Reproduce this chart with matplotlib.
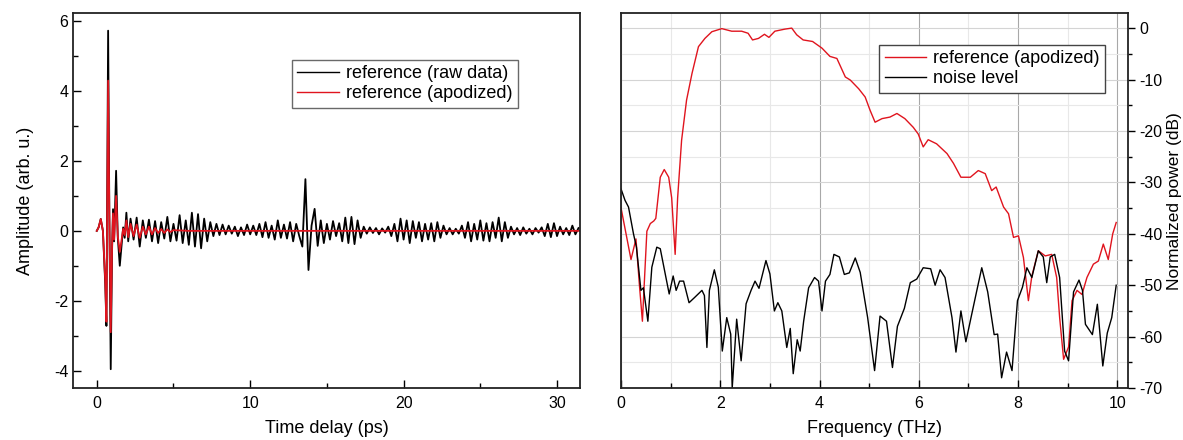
import numpy as np
import matplotlib
matplotlib.use("Agg")
import matplotlib.pyplot as plt
from matplotlib.ticker import MultipleLocator

plt.rcParams['font.family'] = ['Liberation Sans', 'DejaVu Sans']
plt.rcParams['axes.unicode_minus'] = False

# --- time domain: main pulse ---
pulse_t = [0.0, 0.12, 0.26, 0.4, 0.55, 0.63, 0.74, 0.82, 0.91, 1.0,
           1.06, 1.13, 1.26, 1.37, 1.5, 1.62, 1.72, 1.82, 1.93, 2.05]
pulse_raw = [0.0, 0.1, 0.34, 0.0, -1.5, -2.72, 5.73, 0.5, -3.96, -0.5,
             0.62, -0.3, 1.72, -0.2, -1.0, -0.4, 0.1, -0.2, 0.52, -0.3]
pulse_apod = [0.0, 0.1, 0.34, 0.0, -1.4, -2.6, 4.3, 0.4, -2.9, -0.4,
              0.5, -0.25, 1.0, -0.15, -0.6, -0.25, 0.06, -0.12, 0.3, -0.18]

# raw trace after the pulse, one value every 0.2 ps from 2.2 ps
noise_start, noise_step = 2.2, 0.2
noise_raw = [
    0.35, -0.25, 0.38, -0.45, 0.3,
    -0.2, 0.32, -0.3, 0.28, -0.35, 0.25, -0.22, 0.4, -0.3, 0.2,
    -0.28, 0.45, -0.35, 0.3, -0.4, 0.52, -0.45, 0.48, -0.5, 0.35, -0.3, 0.25,
    -0.15, 0.2, -0.12, 0.18, -0.1, 0.15, -0.08, 0.12, -0.15, 0.1, -0.12, 0.18, -0.1,
    0.15, -0.12, 0.2, -0.18, 0.25, -0.2, 0.15, -0.25, 0.3, -0.2, 0.18, -0.22, 0.25, -0.3, 0.2, -0.15,
    -0.45, 1.48, -1.12, 0.15, 0.63, -0.43,
    0.3, -0.35, 0.2, -0.25, 0.28, -0.15, 0.22, -0.3, 0.38, -0.35, 0.4, -0.38, 0.3, -0.2, 0.12,
    -0.08, 0.1, -0.06, 0.08, -0.1, 0.07, -0.05, 0.12, -0.15, 0.2,
    -0.3, 0.35, -0.25, 0.3, -0.35, 0.28, -0.2, 0.25, -0.3, 0.2,
    -0.25, 0.22, -0.3, 0.25, -0.2, 0.15, -0.1, 0.08, -0.1, 0.06,
    -0.08, 0.15, -0.2, 0.25, -0.3, 0.2, -0.25, 0.3, -0.28, 0.22, -0.3, 0.25, -0.2, 0.38, -0.3, 0.25, -0.2,
    0.12, -0.1, 0.08, -0.12, 0.1, -0.08, 0.06, -0.1, 0.08, -0.05, 0.1,
    -0.15, 0.2, -0.18, 0.22, -0.15, 0.12, -0.1, 0.08, -0.12, 0.15, -0.1, 0.08,
]

# apodized trace after the pulse (decays to ~0)
apod_tail_t = [2.2, 2.4, 2.6, 2.8, 3.0, 3.2, 3.4, 3.6, 3.8, 4.0, 4.2, 4.4,
               4.6, 4.8, 5.0, 6.0, 10.0, 15.0, 20.0, 25.0, 31.5]
apod_tail = [0.2, -0.15, 0.18, -0.2, 0.12, -0.1, 0.12, -0.1, 0.08, -0.06,
             0.05, -0.06, 0.04, -0.03, 0.02, 0.0, 0.0, 0.0, 0.0, 0.0, 0.0]

# --- frequency domain ---
red_f = [0.0, 0.1, 0.2, 0.3, 0.37, 0.43, 0.52, 0.59, 0.66, 0.70, 0.79, 0.87,
         0.96, 1.02, 1.09, 1.14, 1.22, 1.32, 1.43, 1.56, 1.69, 1.83, 2.03,
         2.23, 2.43, 2.56, 2.65, 2.77, 2.89, 2.98, 3.10, 3.30, 3.44, 3.54,
         3.67, 3.86, 4.05, 4.21, 4.35, 4.52, 4.62, 4.79, 4.92, 5.02, 5.12,
         5.26, 5.42, 5.56, 5.72, 5.89, 5.99, 6.09, 6.19, 6.36, 6.57, 6.70,
         6.85, 7.04, 7.20, 7.34, 7.47, 7.56, 7.71, 7.81, 7.91, 8.01, 8.11,
         8.21, 8.28, 8.41, 8.55, 8.68, 8.78, 8.84, 8.92, 9.02, 9.09, 9.19,
         9.29, 9.39, 9.52, 9.62, 9.72, 9.82, 9.91, 9.98]
red_db = [-35, -40, -45, -41, -50, -57, -39.5, -38, -37.5, -37, -29, -27.5,
          -29, -33, -44, -33, -21.8, -14, -8.8, -3.6, -2, -0.7, -0.1,
          -0.6, -0.6, -1, -2.3, -2, -1.2, -1.8, -0.6, -0.2, 0, -1.3,
          -2.3, -2.6, -3.9, -5.5, -5.9, -9.5, -10.1, -11.8, -13.4, -16.0, -18.3,
          -17.6, -17.3, -16.6, -17.6, -19.3, -20.6, -23.1, -21.7, -22.5, -24.4, -26.3,
          -29, -29, -27.7, -28.3, -31.6, -30.9, -34.8, -36.1, -40.7, -40.4, -44.6,
          -53, -48.2, -43.3, -44.3, -44, -48.5, -56.3, -64.4, -62, -53, -51,
          -51.8, -48.5, -45.9, -45.3, -42, -45, -40, -37.8]

noise_f = [0.0, 0.08, 0.15, 0.25, 0.31, 0.40, 0.45, 0.54, 0.62, 0.72, 0.79,
           0.89, 0.97, 1.05, 1.11, 1.18, 1.26, 1.37, 1.48, 1.63, 1.68, 1.73,
           1.78, 1.88, 1.96, 2.04, 2.13, 2.21, 2.24, 2.33, 2.42, 2.52, 2.62,
           2.70, 2.78, 2.92, 3.00, 3.09, 3.16, 3.24, 3.34, 3.41, 3.47, 3.55,
           3.61, 3.68, 3.78, 3.90, 3.98, 4.05, 4.12, 4.21, 4.29, 4.40, 4.50,
           4.60, 4.72, 4.82, 4.97, 5.11, 5.22, 5.35, 5.47, 5.57, 5.71, 5.83,
           5.96, 6.09, 6.24, 6.33, 6.43, 6.53, 6.67, 6.75, 6.85, 6.95, 7.06,
           7.16, 7.27, 7.39, 7.52, 7.59, 7.67, 7.77, 7.88, 7.99, 8.09, 8.18,
           8.28, 8.41, 8.51, 8.58, 8.65, 8.74, 8.84, 8.94, 9.02, 9.12, 9.23,
           9.30, 9.36, 9.50, 9.60, 9.71, 9.80, 9.89, 9.98]
noise_db = [-31.3, -33.5, -34.8, -40, -42.6, -51, -50.5, -57, -46.5, -42.6, -42.9,
            -47.8, -51.7, -48.2, -51, -49.2, -49.2, -53.4, -52.4, -51, -52, -62.1,
            -51, -47, -50.4, -62.8, -56.3, -59.5, -70, -56.6, -64.7, -53.6, -51,
            -49.2, -50.6, -45.2, -47.8, -55, -53.4, -55, -62.1, -58.4, -67.2, -60.6,
            -62.8, -57, -50.5, -48.5, -49.2, -55, -49.2, -47.9, -44, -44.5, -47.9,
            -47.6, -44.7, -47.5, -56.3, -66.6, -56, -57, -66, -58, -54.5, -49.5,
            -48.8, -46.6, -46.8, -50, -47, -48.5, -56.3, -63, -55, -61, -56,
            -51.5, -46.6, -51.3, -59.6, -59.5, -68, -63, -66.6, -53, -50.4, -46.6,
            -48.5, -43.3, -44.5, -49.5, -44.5, -44, -48.5, -62.8, -64.7, -51.3, -49,
            -51, -57.6, -59.6, -53.7, -65.7, -59.3, -56.3, -50]

RED = '#e0141e'

fig = plt.figure(figsize=(11.83, 4.4), dpi=100)
ax1 = fig.add_axes([0.0617, 0.118, 0.4286, 0.852])
ax2 = fig.add_axes([0.525, 0.118, 0.4286, 0.852])

# ---------- left: time trace ----------
noise_t = noise_start + noise_step * np.arange(len(noise_raw))
raw_t = np.concatenate([pulse_t, noise_t])
raw_y = np.concatenate([pulse_raw, noise_raw])
apod_t = np.concatenate([pulse_t, apod_tail_t])
apod_y = np.concatenate([pulse_apod, apod_tail])

ax1.plot(raw_t, raw_y, color='black', lw=1.3, label='reference (raw data)')
ax1.plot(apod_t, apod_y, color=RED, lw=1.3, label='reference (apodized)')

ax1.set_xlim(-1.55, 31.5)
ax1.set_ylim(-4.5, 6.23)
ax1.xaxis.set_major_locator(MultipleLocator(10))
ax1.xaxis.set_minor_locator(MultipleLocator(5))
ax1.yaxis.set_major_locator(MultipleLocator(2))
ax1.yaxis.set_minor_locator(MultipleLocator(1))
ax1.set_xlabel('Time delay (ps)', fontsize=13, labelpad=6)
ax1.set_ylabel('Amplitude (arb. u.)', fontsize=13, labelpad=14)
leg1 = ax1.legend(loc='upper left', bbox_to_anchor=(0.432, 0.875), borderaxespad=0,
                  fontsize=13, frameon=True, fancybox=False, edgecolor='#444444',
                  handlelength=2.3, handletextpad=0.4, borderpad=0.3, labelspacing=0.15)
for h in leg1.get_lines():
    h.set_linewidth(1.0)

# ---------- right: spectrum ----------
ax2.plot(red_f, red_db, color=RED, lw=1.0, label='reference (apodized)')
ax2.plot(noise_f, noise_db, color='black', lw=1.0, label='noise level')
ax2.set_xlim(0, 10.22)
ax2.set_ylim(-70, 2.9)
ax2.xaxis.set_major_locator(MultipleLocator(2))
ax2.xaxis.set_minor_locator(MultipleLocator(1))
ax2.yaxis.set_major_locator(MultipleLocator(10))
ax2.yaxis.set_minor_locator(MultipleLocator(5))
ax2.yaxis.tick_right()
ax2.yaxis.set_label_position('right')
ax2.grid(which='major', axis='x', color='#a8a8a8', lw=0.8)
ax2.grid(which='major', axis='y', color='#d4d4d4', lw=0.8)
ax2.grid(which='minor', color='#e8e8e8', lw=0.8)
ax2.set_axisbelow(True)
ax2.set_xlabel('Frequency (THz)', fontsize=13, labelpad=6)
ax2.set_ylabel('Normalized power (dB)', fontsize=12.5, labelpad=3)
ax2.legend(loc='upper left', bbox_to_anchor=(0.509, 0.915), borderaxespad=0,
           fontsize=13, frameon=True, fancybox=False, edgecolor='#444444',
           framealpha=1, handlelength=2.3, handletextpad=0.4, borderpad=0.3,
           labelspacing=0.15)

for ax in (ax1, ax2):
    for s in ax.spines.values():
        s.set_linewidth(1.3)
        s.set_color('#222222')
    ax.tick_params(which='both', labelsize=11.5, width=1.0)
    ax.tick_params(axis='x', which='major', direction='in', length=6, pad=6)
    ax.tick_params(axis='x', which='minor', direction='in', length=3.5)

ax1.tick_params(axis='y', which='major', direction='in', length=6)
ax1.tick_params(axis='y', which='minor', direction='in', length=3.5)
ax2.tick_params(axis='y', which='major', direction='out', length=5, pad=3)
ax2.tick_params(axis='y', which='minor', direction='out', length=3)

fig.savefig('out.png', dpi=100)
